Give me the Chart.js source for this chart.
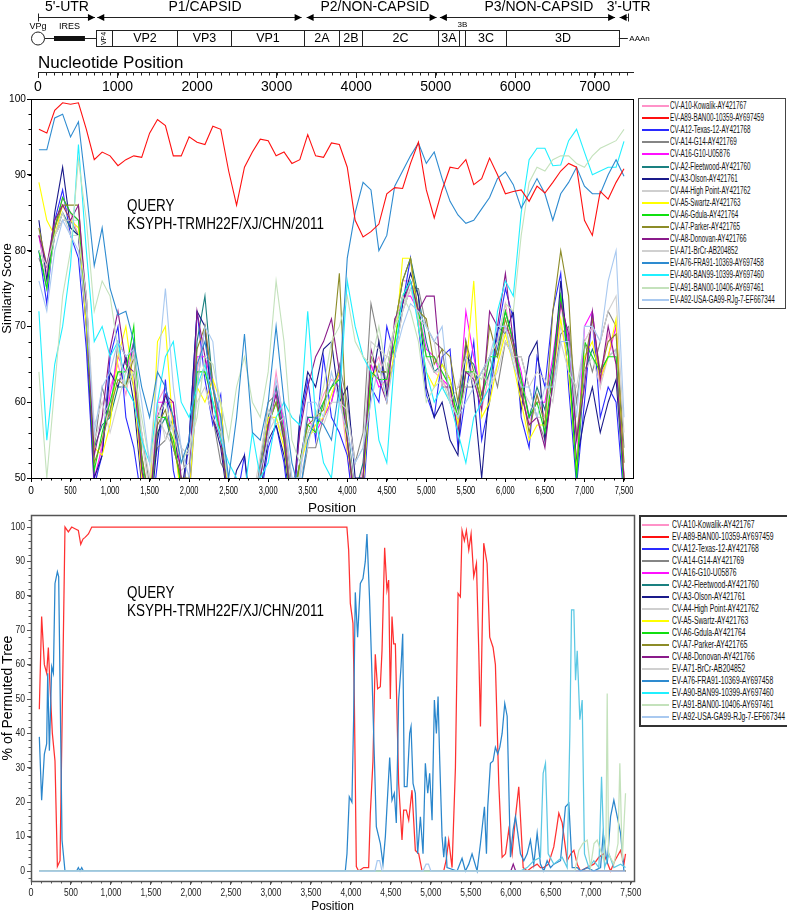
<!DOCTYPE html>
<html><head><meta charset="utf-8">
<script src="https://cdn.jsdelivr.net/npm/chart.js@4.4.1/dist/chart.umd.min.js"></script>
<style>
html,body{margin:0;padding:0;background:#fff;width:787px;height:914px;overflow:hidden;font-family:"Liberation Sans",Arial,Helvetica,sans-serif}
#wrap{position:relative;width:787px;height:914px;overflow:hidden;background:#fff}
.cbox{position:absolute;left:0;width:787px}
.legend{position:absolute;background:#fff;box-sizing:border-box;overflow:hidden}
.legend .row{position:absolute;left:0;height:12px;width:300px;white-space:nowrap}
.legend .sw{position:absolute;top:5px;width:27px;height:2px}
.legend .tx{position:absolute;top:0;font-size:10px;line-height:12px;color:#111;white-space:nowrap}
.query{position:absolute;font-size:16px;line-height:18px;transform:scaleX(.84);transform-origin:0 0;white-space:nowrap;color:#000}
</style></head>
<body><div id="wrap">
<div class="cbox" style="top:0;height:97px"><canvas id="c0"></canvas></div>
<div class="cbox" style="top:88px;height:428px"><canvas id="c1"></canvas></div>
<div class="cbox" style="top:500px;height:414px"><canvas id="c2"></canvas></div>
<div class="query" style="left:127px;top:197px">QUERY<br>KSYPH-TRMH22F/XJ/CHN/2011</div>
<div class="query" style="left:127px;top:584px">QUERY<br>KSYPH-TRMH22F/XJ/CHN/2011</div>
<div id="leg1" class="legend" style="left:638px;top:98px;width:148px;height:211px;border:1px solid #444"></div>
<div id="leg2" class="legend" style="left:639px;top:515px;width:170px;height:212px;border:2px solid #333"></div>
</div>
<script>
// ---------------- genome map ----------------
const regionLabels = ["5'-UTR", "P1/CAPSID", "P2/NON-CAPSID", "P3/NON-CAPSID", "3'-UTR"];
const regionLabelPos = [364, 2099, 4235, 6297, 7427];
const regionSpans = [[0, 716], [745, 3314], [3377, 5011], [5052, 7255], [7312, 7415]];
const geneNames = ["VP4", "VP2", "VP3", "VP1", "2A", "2B", "2C", "3A", "3B", "3C", "3D"];
const geneBounds = [729, 930, 1747, 2425, 3343, 3783, 4072, 5027, 5291, 5366, 5882, 7302];
const iresSpan = [201, 590];
const polyAEnd = 7415;

// ---------------- tick labels ----------------
const nucTicks = [0, 1000, 2000, 3000, 4000, 5000, 6000, 7000];
const posTicks = [0, 500, 1000, 1500, 2000, 2500, 3000, 3500, 4000, 4500, 5000, 5500, 6000, 6500, 7000, 7500];
const simTicks = [50, 60, 70, 80, 90, 100];
const bootTicks = [0, 10, 20, 30, 40, 50, 60, 70, 80, 90, 100];

// ---------------- series ----------------
const seriesNames = ["CV-A10-Kowalik-AY421767","EV-A89-BAN00-10359-AY697459","CV-A12-Texas-12-AY421768","CV-A14-G14-AY421769","CV-A16-G10-U05876","CV-A2-Fleetwood-AY421760","CV-A3-Olson-AY421761","CV-A4-High Point-AY421762","CV-A5-Swartz-AY421763","CV-A6-Gdula-AY421764","CV-A7-Parker-AY421765","CV-A8-Donovan-AY421766","EV-A71-BrCr-AB204852","EV-A76-FRA91-10369-AY697458","EV-A90-BAN99-10399-AY697460","EV-A91-BAN00-10406-AY697461","EV-A92-USA-GA99-RJg-7-EF667344"];
const seriesColors = ["#ff92c8","#ff1010","#2a2aff","#858585","#ff10ff","#1a8080","#1a1a8a","#cfcfcf","#ffff00","#10e010","#8c8c28","#8a1a8a","#d0d0d0","#2e8bd0","#20f0ff","#c4e2bc","#a9c9f0"];
const bootColors = ["#ff92c8","#ff3030","#2a2aff","#858585","#ff10ff","#1a8080","#1a1a8a","#cfcfcf","#ffff00","#10e010","#8c8c28","#8a1a8a","#d0d0d0","#2a86cc","#5cc8e4","#c4e2bc","#a9c9f0"];

// similarity plot
const simPositions = [100,200,300,400,500,600,700,800,900,1000,1100,1200,1300,1400,1500,1600,1700,1800,1900,2000,2100,2200,2300,2400,2500,2600,2700,2800,2900,3000,3100,3200,3300,3400,3500,3600,3700,3800,3900,4000,4100,4200,4300,4400,4500,4600,4700,4800,4900,5000,5100,5200,5300,5400,5500,5600,5700,5800,5900,6000,6100,6200,6300,6400,6500,6600,6700,6800,6900,7000,7100,7200,7300,7400,7500];
const simA10 = [82,77,84,86,85,82,70,48,55,62, 65,61,67,50,44,60,62,57,47,48, 64,70,63,56,45,42,44,43,52,56, 64,57,45,51,56,58,61,63,62,53, 45,52,64,66,62,70,76,76,71,66, 64,63,61,57,67,63,59,64,68,73, 67,62,57,61,58,65,73,66,52,68, 70,62,69,65,50];
const simA89 = [96,95.5,98.5,99.5,99.3,99.5,96,92,93,92.5, 91.2,92,92.5,92.3,95.5,97.3,96.5,92.5,92.5,95, 94.3,94,96.4,96,90.5,86,91,93,94.7,94.5, 92.5,93,91.5,92,95.3,92.5,92.3,94.2,94,91, 84,81.8,82.5,83.5,87.5,88.3,88.2,91.5,94.3,88, 84.3,88,91,90.8,92,88.7,89.5,92.2,90,87.5, 87.8,88,86.5,88.5,87.6,89,90.5,91.5,91,84, 82,87.8,86.8,89,90.8];
const simA12 = [80,73,84,88,82,79,67,49,53,66, 70,58,54,47,43,52,63,51,46,55, 72,63,57,61,44,47,53,42,47,54, 57,52,43,57,63,55,66,58,56,53, 44,47,62,60,70,66,73,79,70,61, 58,66,67,54,61,68,55,60,69,75, 71,58,54,66,62,72,77,62,49,60, 72,58,62,60,47];
const simA14 = [79,76,82,84,84,82,74,54,62,58, 68,66,62,56,49,54,55,58,54,47, 62,70,58,52,50,45,44,45,52,60, 61,58,49,48,54,54,58,60,65,60, 52,56,73,68,62,66,72,75,75,70, 68,67,60,62,62,62,64,66,62,68, 66,66,62,58,55,62,69,70,60,68, 64,68,72,70,54];
const simA16 = [82,76,83,87,85,84,72,50,54,61, 66,64,68,51,45,60,60,60,49,50, 66,66,62,56,48,43,45,44,50,56, 62,57,46,52,58,56,58,60,64,56, 48,50,65,62,63,70,74,74,72,67, 66,63,62,58,72,66,61,66,68,70, 68,64,58,60,60,66,74,68,51,70, 72,63,66,70,50];
const simA2 = [80,75,82,85,83,82,74,54,57,58, 62,62,68,53,46,56,58,54,50,48, 68,74,62,58,47,44,46,45,51,58, 62,56,47,52,58,58,60,62,64,57, 48,52,66,64,64,70,76,79,74,68, 64,65,63,59,66,65,61,64,67,72, 68,63,58,62,59,65,74,66,50,64, 67,64,66,67,50];
const simA3 = [84,76,85,91,83,82,70,50,53,64, 62,66,60,49,44,55,61,58,48,55, 72,70,58,54,46,51,53,44,48,55, 57,53,45,58,64,62,67,68,60,62, 50,50,62,68,61,66,73,77,74,62, 58,60,55,53,68,61,50,62,70,69, 72,59,66,68,55,63,76,66,52,58, 62,56,60,63,49];
const simA4 = [83,75,82,84,84,84,74,55,58,60, 64,62,64,55,48,58,56,54,51,52, 62,64,62,58,48,44,47,44,50,56, 58,55,47,51,56,56,60,62,63,56, 48,50,66,64,66,66,72,76,72,66, 64,64,62,58,64,63,60,62,65,70, 66,62,60,58,58,64,70,66,56,64, 66,62,66,67,52];
const simA5 = [89,84,82,86,84,83,70,54,53,57, 66,70,62,50,47,68,70,56,47,48, 62,60,63,60,47,43,45,44,50,58, 58,54,46,52,55,57,58,61,64,54, 47,49,63,65,60,67,79,79,70,64, 62,65,63,57,64,76,58,60,65,69, 65,60,55,57,57,63,71,64,51,66, 68,63,66,71,50];
const simA6 = [80,75,83,87,85,84,72,51,56,60, 64,64,70,52,45,58,58,55,49,50, 64,64,60,56,46,43,45,44,50,57, 60,55,45,52,57,56,60,62,63,55, 46,50,64,63,63,68,74,76,72,66, 66,64,62,58,64,64,60,66,66,72, 68,63,58,60,56,64,74,66,50,68, 66,64,66,66,48];
const simA7 = [83,78,83,86,86,86,72,52,55,59, 63,62,66,53,47,57,59,54,50,50, 67,70,62,55,47,44,46,44,50,57, 60,56,46,52,57,58,59,66,77,55, 47,50,66,64,64,70,76,79,72,71, 65,67,66,60,68,64,60,70,66,71, 67,62,56,61,57,72,80,74,55,65, 71,64,68,69,52];
const simA8 = [82,78,84,86,84,86,73,53,58,67, 72,65,64,51,46,58,61,60,50,49, 72,66,58,55,47,44,46,44,50,57, 61,55,46,56,62,66,68,71,64,55, 46,50,67,63,60,71,73,76,72,74, 74,62,62,56,64,63,59,72,70,77, 68,61,57,58,54,63,73,69,55,62, 72,63,70,65,50];
const simA71 = [80,78,82,85,82,82,74,57,60,56, 60,64,66,56,50,60,55,57,54,53, 60,62,58,56,50,47,49,47,53,59, 57,58,50,50,54,59,57,60,60,59, 52,54,68,67,66,70,72,75,71,70, 68,62,60,62,66,62,64,62,64,68, 66,66,62,64,63,60,68,64,62,68, 70,68,72,74,56];
const simA76 = [93.3,93.3,97.5,98,95,97,88,78,83,75, 71.5,72,68,62,58,64,62,58,52,55, 65,68,62,58,50,58,69,56,55,60, 70,60,52,48,55,58,57,55,62,79, 85,89,88,80,82,88.5,90.5,92.5,94.2,91.5, 93,89.5,86.5,84.7,83.6,84,85.5,87,89.5,90.4, 88.7,85.6,87.5,89.5,87.5,84,87.5,89,91,88.5, 87.5,87.5,90,92,89.8];
const simA90 = [72,55,65,70,78,94,80,68,70,66, 68,62,60,55,52,60,66,68,60,58, 62,65,60,55,52,50,48,56,50,52, 58,60,58,57,72,58,52,50,60,76, 70,66,64,55,52,66,74,76,70,64, 60,62,60,56,52,58,60,62,72,76, 74,85,92,93.5,93.5,91.2,91.3,94.5,96,93, 90,90.5,91,91,94.4];
const simA91 = [64,50,62,74,80,92,84,72,76,74, 67,62,64,58,52,58,60,56,52,54, 58,66,65,60,55,62,66,60,58,64, 76,68,55,52,56,58,62,68,70,74, 68,66,65,70,64,70,74,72,68,60, 62,63,60,58,62,64,63,66,68,73, 72,82,89,91,90.5,92,92.5,92.5,91.5,91, 92.5,93.5,94,94.5,96];
const simA92 = [76,72,80,84,82,80,72,56,62,64, 68,66,67,60,52,64,75,62,54,50, 62,70,68,57,49,45,47,46,51,55, 63,58,50,50,60,60,58,64,60,56, 52,54,60,65,60,66,70,73,72,70, 68,70,60,58,60,62,64,66,70,70, 65,62,62,58,62,62,68,68,58,70, 70,68,76,80,58];

// bootscan plot (% of permuted trees)
const bootZeroPos = [100, 7434];
const bootZeroVal = [0, 0];
const bootA89Pos = [104,133,167,196,217,238,267,300,330,363,396,425,467,509,550,592,622,650,676,718,760,3950,3972,3993,4026,4043,4068,4097,4160,4222,4243,4276,4305,4334,4368,4389,4422,4451,4472,4493,4514,4535,4556,4597,4639,4660,4693,4723,4764,4806,4848,4890,5160,5190,5223,5265,5307,5340,5369,5390,5419,5444,5474,5503,5536,5570,5599,5620,5661,5703,5736,5778,5807,5849,5891,5933,5974,6016,6058,6099,6120,6154,6204,6260,6329,6370,6412,6470,6537,6570,6600,6642,6704,6750,6788,6830,6871,6950,7038,7100,7163,7247,7300,7372,7414,7434];
const bootA89Val = [47,74,60,57.5,65,53.6,40,32,1.3,3,54.6,100,98.6,100,99.5,99,95,96.5,97,98,100,100,93.3,77.8,72,49.7,1.3,0,1,1,16.8,32,63,53,53.6,64,94,81.7,84.6,50,74,66,66,25.5,9,17.7,17.7,14.8,23.5,6,5,0,0,3,9,1,30,80.7,79.7,99,96,99,93.3,98,85.6,89.4,64,42,95.3,89.4,68,65,60,25.5,4,5,12,5,15.8,24.5,15.8,1,0,1,2,1,1,2,7,12,16.8,14,3,5,6,2,0,1,2,4,5,0,3,6,2,5];
const bootA76Pos = [104,133,167,196,209,230,259,280,300,330,346,371,388,425,570,592,613,634,655,3930,3951,3980,4013,4034,4055,4084,4118,4151,4180,4201,4234,4263,4293,4318,4368,4401,4431,4485,4514,4543,4568,4597,4627,4648,4668,4702,4735,4752,4777,4806,4835,4869,4902,4931,4961,4985,5015,5044,5069,5090,5111,5140,5161,5182,5202,5328,5390,5432,5474,5515,5578,5620,5670,5695,5711,5745,5778,5807,5836,5862,5891,5924,5954,5995,6029,6058,6087,6120,6162,6204,6245,6287,6329,6370,6412,6454,6496,6537,6621,6683,6725,6767,6830,6871,6955,7038,7122,7155,7205,7247,7288,7330,7372,7414];
const bootA76Val = [39,20.6,34,37,57.5,35,59.4,57.5,83.6,87,85.6,40,9,0,0,1,0,1,0,0,5,21.6,20,44,81,68,83.6,85,90,98,78.8,57.5,33.2,12.9,8,2,10,33,20.6,22.6,14,49.7,59.4,69,24.5,24.5,40,42,25.5,22.6,5,15.8,5,31.3,22.6,28.4,14.8,49.7,40,50.7,32,10,4,10,1,0,3.7,0,2,5,0,8,18.7,5,18.7,31.3,32,36,34,36,40,48.7,45,4,12,15.8,11,5,3,5,9,2,11,2,0,3,1,2,3,18.7,19.7,1,1,0,1,0,1,11,2,15.8,20.6,15.8,11,0];
const bootA90Pos = [100,6120,6204,6287,6370,6404,6433,6467,6537,6642,6704,6738,6759,6788,6809,6830,6863,6892,6921,6976,7038,7101,7134,7172,7226,7288,7372,7434];
const bootA90Val = [0,0,1,3,4,28.4,31.3,5,2,4,1,40,75.9,75.9,55.5,64,44,49.7,5,1,3,1,27.4,1,5,1,2,1];
const bootA91Pos = [100,6800,6850,6900,6955,6996,7040,7080,7163,7190,7205,7222,7288,7340,7363,7393,7434];
const bootA91Val = [0,0,6,8,9,1,8,9,3,10,51.6,5,2,8,31.3,3,22.6];
const bootA92Pos = [100,4300,4330,4360,4390,4900,4940,4970,5000,7434];
const bootA92Val = [0,0,3,3,0,0,2,2,0,0];
const bootA8Pos = [100,6000,6030,6060,7434];
const bootA8Val = [0,0,2,0,0];

// ---------------- helpers ----------------
const FONT = '"Liberation Sans", Arial, Helvetica, sans-serif';
Chart.defaults.font.family = FONT;
Chart.defaults.color = '#000';

function squishCanvas(id, fn) {
  const cv = document.getElementById(id);
  const ctx = cv.getContext('2d');
  const orig = ctx.fillText;
  ctx.fillText = function (t, x, y, mw) {
    const f = fn(String(t));
    if (f === 1) {
      return mw === undefined ? orig.call(this, t, x, y) : orig.call(this, t, x, y, mw);
    }
    this.save();
    this.translate(x, y);
    this.scale(f, 1);
    orig.call(this, t, 0, 0);
    this.restore();
  };
  return cv;
}
const isNum = t => /^\d{1,3}(,\d{3})*$/.test(t);
const fixedTicks = values => (scale => { scale.ticks = values.map(v => ({ value: v })); });

const framePlugin = {
  id: 'frame',
  afterDraw(chart, args, o) {
    const a = chart.chartArea, ctx = chart.ctx;
    ctx.save();
    ctx.strokeStyle = o.color || '#000';
    ctx.lineWidth = o.width || 1;
    ctx.strokeRect(Math.round(a.left) + 0.5, Math.round(a.top) + 0.5, Math.round(a.right - a.left), Math.round(a.bottom - a.top));
    ctx.restore();
  }
};
const minorTickPlugin = {
  id: 'minorTicks',
  afterDraw(chart, args, o) {
    if (!o.axes) return;
    const ctx = chart.ctx;
    ctx.save();
    ctx.strokeStyle = o.color || '#000';
    ctx.lineWidth = 1;
    for (const ax of o.axes) {
      const s = chart.scales[ax.id];
      ctx.beginPath();
      for (let v = ax.from; v <= ax.to + 1e-9; v += ax.step) {
        const p = Math.round(s.getPixelForValue(v)) + 0.5;
        if (s.isHorizontal()) {
          ctx.moveTo(p, s.top); ctx.lineTo(p, s.top + ax.len);
        } else {
          ctx.moveTo(s.right, p); ctx.lineTo(s.right - ax.len, p);
        }
      }
      ctx.stroke();
    }
    ctx.restore();
  }
};
const genomePlugin = {
  id: 'genomeMap',
  afterDraw(chart) {
    const s = chart.scales.x, ctx = chart.ctx;
    const X = v => s.getPixelForValue(v);
    ctx.save();
    ctx.strokeStyle = '#222'; ctx.fillStyle = '#000'; ctx.lineWidth = 1;
    ctx.textAlign = 'center'; ctx.textBaseline = 'middle';
    ctx.font = '14px ' + FONT;
    regionLabels.forEach((t, i) => ctx.fillText(t, X(regionLabelPos[i]), 7));
    const ay = 17.5;
    const arrowR = x => { ctx.beginPath(); ctx.moveTo(x, ay); ctx.lineTo(x - 7, ay - 3.5); ctx.lineTo(x - 7, ay + 3.5); ctx.closePath(); ctx.fill(); };
    const arrowL = x => { ctx.beginPath(); ctx.moveTo(x, ay); ctx.lineTo(x + 7, ay - 3.5); ctx.lineTo(x + 7, ay + 3.5); ctx.closePath(); ctx.fill(); };
    const bar = x => { ctx.beginPath(); ctx.moveTo(Math.round(x) + 0.5, ay - 4); ctx.lineTo(Math.round(x) + 0.5, ay + 4); ctx.stroke(); };
    regionSpans.forEach(([a, b], i) => {
      const xa = X(a), xb = X(b);
      ctx.beginPath(); ctx.moveTo(xa, ay); ctx.lineTo(xb, ay); ctx.stroke();
      if (i === 0) bar(xa); else arrowL(xa);
      if (i === regionSpans.length - 1) bar(xb); else arrowR(xb);
    });
    const cy = 38.5;
    const cx = X(0);
    ctx.beginPath(); ctx.moveTo(cx + 6.5, cy); ctx.lineTo(X(geneBounds[0]), cy); ctx.stroke();
    ctx.beginPath(); ctx.arc(cx, cy, 6.5, 0, Math.PI * 2); ctx.fillStyle = '#fff'; ctx.fill(); ctx.stroke();
    ctx.fillStyle = '#111';
    ctx.fillRect(X(iresSpan[0]), cy - 2.5, X(iresSpan[1]) - X(iresSpan[0]), 5);
    ctx.fillStyle = '#000';
    ctx.font = '9px ' + FONT;
    ctx.fillText('VPg', cx, 26.5);
    ctx.fillText('IRES', (X(iresSpan[0]) + X(iresSpan[1])) / 2, 26.5);
    for (let i = 0; i < geneNames.length; i++) {
      const x0 = Math.round(X(geneBounds[i])) + 0.5, x1 = Math.round(X(geneBounds[i + 1])) + 0.5;
      ctx.strokeRect(x0, 30.5, x1 - x0, 16);
      const mid = (x0 + x1) / 2;
      if (geneNames[i] === 'VP4') {
        ctx.save(); ctx.translate(mid, cy); ctx.rotate(-Math.PI / 2);
        ctx.font = '7px ' + FONT; ctx.fillText('VP4', 0, 0); ctx.restore();
      } else if (geneNames[i] === '3B') {
        ctx.font = '8px ' + FONT; ctx.fillText('3B', mid, 24.5);
      } else {
        ctx.font = '12.5px ' + FONT; ctx.fillText(geneNames[i], mid, cy + 0.5);
      }
    }
    const xe = X(geneBounds[geneBounds.length - 1]);
    ctx.beginPath(); ctx.moveTo(xe, cy); ctx.lineTo(X(polyAEnd), cy); ctx.stroke();
    ctx.font = '8px ' + FONT; ctx.textAlign = 'left';
    ctx.fillText('AAAn', X(polyAEnd) + 1.5, cy);
    ctx.font = '17px ' + FONT; ctx.textBaseline = 'alphabetic';
    ctx.fillText('Nucleotide Position', X(0), 67.5);
    ctx.restore();
  }
};

// ---------------- chart 0 : nucleotide axis + genome map ----------------
new Chart(document.getElementById('c0'), {
  type: 'line',
  data: { datasets: [] },
  options: {
    responsive: true, maintainAspectRatio: false, animation: false, events: [],
    layout: { padding: { left: 38, right: 154, top: 0, bottom: 0 } },
    plugins: { legend: { display: false }, tooltip: { enabled: false },
      minorTicks: { color: '#222', axes: [{ id: 'x', from: 0, to: 7400, step: 100, len: 3.5 }] } },
    scales: {
      x: { type: 'linear', position: 'bottom', min: 0, max: 7480,
        afterBuildTicks: fixedTicks(nucTicks),
        afterFit: s => { s.height = 25; },
        ticks: { autoSkip: false, maxRotation: 0, padding: 1, font: { size: 14 }, color: '#000', callback: v => String(v) },
        grid: { drawOnChartArea: false, tickLength: 6, color: '#222' },
        border: { color: '#222' } },
      y: { display: false, min: 0, max: 1 }
    }
  },
  plugins: [genomePlugin, minorTickPlugin]
});

// ---------------- chart 1 : similarity ----------------
const simSeries = [simA10, simA89, simA12, simA14, simA16, simA2, simA3, simA4, simA5, simA6, simA7, simA8, simA71, simA76, simA90, simA91, simA92];
const c1 = squishCanvas('c1', t => isNum(t) ? ((t.includes(',') || t === '500') ? 0.68 : 0.92) : 1);
new Chart(c1, {
  type: 'line',
  data: {
    datasets: simSeries.map((vals, i) => ({
      label: seriesNames[i],
      data: simPositions.map((p, k) => ({ x: p, y: vals[k] })),
      borderColor: seriesColors[i], backgroundColor: seriesColors[i],
      borderWidth: 1.1, pointRadius: 0, tension: 0, fill: false,
      order: i === 1 ? 0 : (i === 13 ? 1 : 20 - i)
    }))
  },
  options: {
    responsive: true, maintainAspectRatio: false, animation: false, events: [], locale: 'en-US',
    layout: { padding: { left: 0, right: 154, top: 11, bottom: 0 } },
    plugins: { legend: { display: false }, tooltip: { enabled: false },
      frame: { color: '#000', width: 1 },
      minorTicks: { color: '#000', axes: [
        { id: 'x', from: 0, to: 7500, step: 125, len: 2.5 },
        { id: 'y', from: 50, to: 100, step: 2, len: 2.5 }] } },
    scales: {
      x: { type: 'linear', min: 0, max: 7614,
        afterBuildTicks: fixedTicks(posTicks),
        afterFit: s => { s.height = 38; },
        ticks: { autoSkip: false, maxRotation: 0, padding: 2, font: { size: 11 }, color: '#000' },
        grid: { drawOnChartArea: false, tickLength: 4, color: '#000' },
        border: { color: '#000' },
        title: { display: true, text: 'Position', font: { size: 13.5 }, color: '#000', padding: { top: 0, bottom: 0 } } },
      y: { min: 50, max: 100,
        afterBuildTicks: fixedTicks(simTicks),
        afterFit: s => { s.width = 31; },
        ticks: { padding: 1, font: { size: 11 }, color: '#000' },
        grid: { drawOnChartArea: false, tickLength: 4, color: '#000' },
        border: { color: '#000' },
        title: { display: true, text: 'Similarity Score', font: { size: 13 }, color: '#000', padding: { top: 0, bottom: 0 } } }
    }
  },
  plugins: [framePlugin, minorTickPlugin]
});

// ---------------- chart 2 : bootscan ----------------
const bootSeriesPos = [bootZeroPos, bootA89Pos, bootZeroPos, bootZeroPos, bootZeroPos, bootZeroPos, bootZeroPos, bootZeroPos, bootZeroPos, bootZeroPos, bootZeroPos, bootA8Pos, bootZeroPos, bootA76Pos, bootA90Pos, bootA91Pos, bootA92Pos];
const bootSeriesVal = [bootZeroVal, bootA89Val, bootZeroVal, bootZeroVal, bootZeroVal, bootZeroVal, bootZeroVal, bootZeroVal, bootZeroVal, bootZeroVal, bootZeroVal, bootA8Val, bootZeroVal, bootA76Val, bootA90Val, bootA91Val, bootA92Val];
const c2 = squishCanvas('c2', t => isNum(t) ? ((t.includes(',') || t === '500') ? 0.8 : 0.86) : 1);
new Chart(c2, {
  type: 'line',
  data: {
    datasets: bootSeriesPos.map((pos, i) => ({
      label: seriesNames[i],
      data: pos.map((p, k) => ({ x: p, y: bootSeriesVal[i][k] })),
      borderColor: bootColors[i], backgroundColor: bootColors[i],
      borderWidth: 1.25, pointRadius: 0, tension: 0, fill: false,
      order: 20 - i
    }))
  },
  options: {
    responsive: true, maintainAspectRatio: false, animation: false, events: [], locale: 'en-US',
    layout: { padding: { left: 0, right: 153, top: 15, bottom: 0 } },
    plugins: { legend: { display: false }, tooltip: { enabled: false },
      frame: { color: '#555', width: 1.5 },
      minorTicks: { color: '#555', axes: [
        { id: 'x', from: 0, to: 7500, step: 125, len: 2.5 },
        { id: 'y', from: -2, to: 102, step: 2, len: 2.5 }] } },
    scales: {
      x: { type: 'linear', min: 0, max: 7540,
        afterBuildTicks: fixedTicks(posTicks),
        afterFit: s => { s.height = 33; },
        ticks: { autoSkip: false, maxRotation: 0, padding: 2, font: { size: 10.5 }, color: '#222' },
        grid: { drawOnChartArea: false, tickLength: 4, color: '#555' },
        border: { color: '#555' },
        title: { display: true, text: 'Position', font: { size: 12 }, color: '#000', padding: { top: 0, bottom: 0 } } },
      y: { min: -2.9, max: 103.5,
        afterBuildTicks: fixedTicks(bootTicks),
        afterFit: s => { s.width = 31; },
        ticks: { padding: 2, font: { size: 10 }, color: '#222' },
        grid: { drawOnChartArea: false, tickLength: 4, color: '#555' },
        border: { color: '#555' },
        title: { display: true, text: '% of Permuted Tree', font: { size: 14 }, color: '#000', padding: { top: 0, bottom: 0 } } }
    }
  },
  plugins: [framePlugin, minorTickPlugin]
});

// ---------------- HTML legends ----------------
function buildLegend(id, rowTop, rowStep, swLeft, txLeft, txScale) {
  const box = document.getElementById(id);
  seriesNames.forEach((name, i) => {
    const row = document.createElement('div');
    row.className = 'row';
    row.style.top = (rowTop + rowStep * i).toFixed(1) + 'px';
    const sw = document.createElement('div');
    sw.className = 'sw';
    sw.style.left = swLeft + 'px';
    sw.style.background = seriesColors[i];
    const tx = document.createElement('div');
    tx.className = 'tx';
    tx.style.left = txLeft + 'px';
    tx.style.transform = 'scaleX(' + txScale + ')';
    tx.style.transformOrigin = '0 50%';
    tx.textContent = name;
    row.appendChild(sw); row.appendChild(tx);
    box.appendChild(row);
  });
}
buildLegend('leg1', 1, 12.1, 3, 31, 0.63);
buildLegend('leg2', 2, 12.0, 1, 31, 0.68);
</script>
</body></html>
